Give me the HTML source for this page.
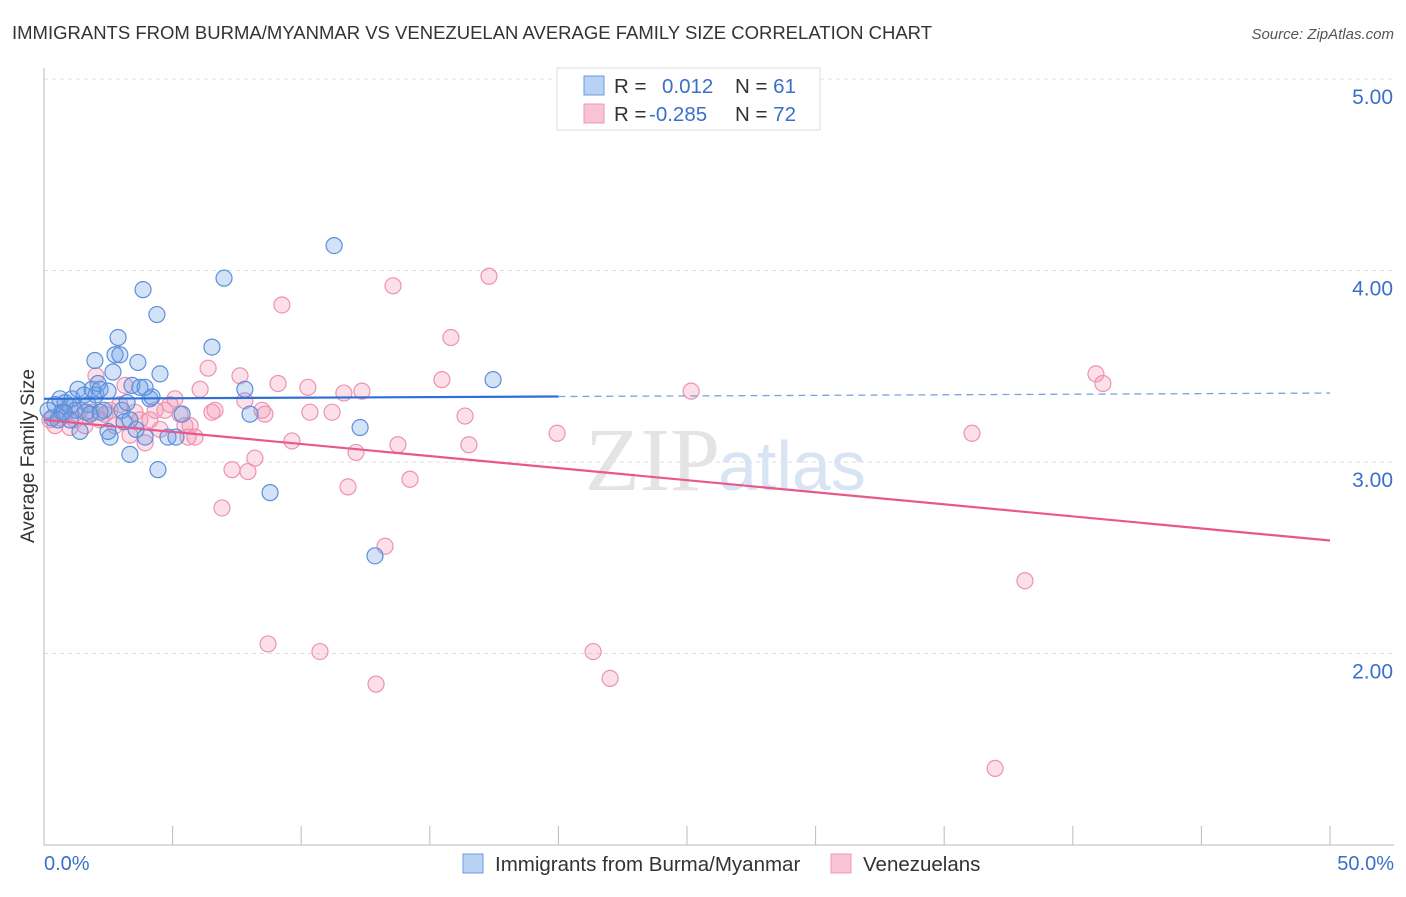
<!DOCTYPE html>
<html><head><meta charset="utf-8"><style>
body{margin:0;background:#fff;font-family:"Liberation Sans",sans-serif}
</style></head><body>
<svg width="1406" height="892" xmlns="http://www.w3.org/2000/svg" font-family="Liberation Sans, sans-serif">
<text x="12" y="39" font-size="18.5" fill="#333">IMMIGRANTS FROM BURMA/MYANMAR VS VENEZUELAN AVERAGE FAMILY SIZE CORRELATION CHART</text>
<text x="1394" y="39" font-size="15" fill="#555" font-style="italic" text-anchor="end">Source: ZipAtlas.com</text>
<g id="grid"></g>
<text x="720" y="490" font-size="90" fill="#e4e4e4" text-anchor="end" font-family="Liberation Serif, serif">ZIP</text>
<text x="718" y="490" font-size="70" fill="#d8e4f4">atlas</text>
<line x1="44" y1="68" x2="44" y2="845" stroke="#bbb"/>
<line x1="44" y1="845" x2="1394" y2="845" stroke="#bbb"/>
<text transform="translate(34,456) rotate(-90)" font-size="19" fill="#333" text-anchor="middle">Average Family Size</text>
<text x="44" y="870" font-size="20" fill="#3a70c8">0.0%</text>
<text x="1394" y="870" font-size="20" fill="#3a70c8" text-anchor="end">50.0%</text>
<g id="marks"></g>
<g>
<rect x="557" y="68" width="263" height="62" fill="#fff" stroke="#ddd"/>
<rect x="584" y="76" width="20" height="19" fill="#b8d2f4" stroke="#6b9be0"/>
<rect x="584" y="104" width="20" height="19" fill="#f8c4d4" stroke="#ec9ab4"/>
<text x="614" y="93" font-size="20.5" fill="#333">R = <tspan fill="#3a70c8" x="662">0.012</tspan><tspan x="735">N = </tspan><tspan fill="#3a70c8">61</tspan></text>
<text x="614" y="121" font-size="20.5" fill="#333">R = <tspan fill="#3a70c8" x="649">-0.285</tspan><tspan x="735">N = </tspan><tspan fill="#3a70c8">72</tspan></text>
</g>
<g>
<rect x="463" y="854" width="20" height="19" fill="#b8d2f4" stroke="#6b9be0"/>
<text x="495" y="871" font-size="20.5" fill="#333">Immigrants from Burma/Myanmar</text>
<rect x="831" y="854" width="20" height="19" fill="#f8c4d4" stroke="#ec9ab4"/>
<text x="863" y="871" font-size="20.5" fill="#333">Venezuelans</text>
</g>
</svg>
<script>
const yTicks=[2,3,4,5];
const xTickCount=10;
const blueX=[0.16,0.31,0.43,0.62,0.70,0.82,1.01,1.09,1.21,1.32,1.40,1.56,1.71,1.79,1.87,1.98,2.02,2.10,2.18,2.33,2.49,2.57,2.68,2.76,2.88,2.95,3.03,3.11,3.23,3.34,3.42,3.58,3.65,3.73,3.85,3.93,4.12,4.20,4.39,4.43,4.51,4.82,5.13,5.37,6.53,7.00,7.81,8.01,8.79,11.28,12.29,12.87,17.46,0.78,1.01,1.63,0.54,2.18,2.49,3.34,3.93];
const blueY=[3.27,3.23,3.30,3.33,3.26,3.31,3.29,3.33,3.27,3.38,3.16,3.35,3.30,3.25,3.38,3.53,3.35,3.41,3.38,3.27,3.37,3.13,3.47,3.56,3.65,3.56,3.27,3.21,3.31,3.04,3.40,3.17,3.52,3.39,3.90,3.13,3.33,3.34,3.77,2.96,3.46,3.13,3.13,3.25,3.60,3.96,3.38,3.25,2.84,4.13,3.18,2.51,3.43,3.26,3.22,3.26,3.22,3.26,3.16,3.22,3.39];
const pinkX=[0.23,0.43,0.62,0.82,1.01,1.21,1.40,1.59,1.87,2.02,2.18,2.37,2.57,2.76,2.95,3.15,3.34,3.54,3.73,3.93,4.12,4.32,4.51,4.70,4.90,5.09,5.29,5.48,5.60,5.68,5.87,6.07,6.38,6.53,6.65,6.92,7.31,7.62,7.81,7.93,8.20,8.48,8.59,8.71,9.10,9.25,9.64,10.26,10.34,10.73,11.20,11.66,11.82,12.13,12.36,12.91,13.26,13.57,13.76,14.23,15.47,15.82,16.37,16.52,17.30,19.95,21.35,22.01,25.16,36.08,36.98,38.14,40.90,41.17];
const pinkY=[3.22,3.19,3.23,3.25,3.18,3.22,3.27,3.19,3.26,3.45,3.22,3.25,3.27,3.19,3.30,3.40,3.14,3.26,3.22,3.10,3.22,3.27,3.17,3.27,3.30,3.33,3.25,3.19,3.13,3.19,3.13,3.38,3.49,3.26,3.27,2.76,2.96,3.45,3.32,2.95,3.02,3.27,3.25,2.05,3.41,3.82,3.11,3.39,3.26,2.01,3.26,3.36,2.87,3.05,3.37,1.84,2.56,3.92,3.09,2.91,3.43,3.65,3.24,3.09,3.97,3.15,2.01,1.87,3.37,3.15,1.40,2.38,3.46,3.41];
const blueTrend=[3.33,3.36];
const pinkTrend=[3.22,2.59];
const NS='http://www.w3.org/2000/svg';
const xs=v=>44+v*25.72;
const ys=v=>79+(5-v)*191.5;
function mk(t,a,p){const e=document.createElementNS(NS,t);for(const k in a)e.setAttribute(k,a[k]);p.appendChild(e);return e;}
const grid=document.getElementById('grid');
yTicks.forEach(t=>{
 const l=mk('line',{x1:44,x2:1394,y1:ys(t),y2:ys(t),stroke:'#ddd','stroke-dasharray':'4,4'},grid);
 
 
 const tx=mk('text',{x:1393,y:ys(t)+25,'font-size':21,fill:'#3a70c8','text-anchor':'end'},grid);
 tx.textContent=t.toFixed(2);
 
 
});
for(let i=0;i<=xTickCount;i++){
 const x=xs(i*5);
 const l=mk('line',{x1:x,x2:x,y1:826,y2:845,stroke:'#bbb'},grid);
 
 
}
const m=document.getElementById('marks');
pinkX.forEach((v,i)=>{
 const c=mk('circle',{cx:xs(v),cy:ys(pinkY[i]),r:8,fill:'rgba(244,150,180,0.3)',stroke:'#ec93b0','stroke-width':1.2},m);
 
 
});
blueX.forEach((v,i)=>{
 const c=mk('circle',{cx:xs(v),cy:ys(blueY[i]),r:8,fill:'rgba(110,160,230,0.3)',stroke:'#5b8fdc','stroke-width':1.2},m);
 
 
});
const bAt=x=>blueTrend[0]+(blueTrend[1]-blueTrend[0])*x/50;
let l=mk('line',{x1:xs(0),y1:ys(bAt(0)),x2:xs(20),y2:ys(bAt(20)),stroke:'#2f6fd6','stroke-width':2.2},m);


l=mk('line',{x1:xs(20),y1:ys(bAt(20)),x2:xs(50),y2:ys(bAt(50)),stroke:'#7aa3e0','stroke-width':1.3,'stroke-dasharray':'7,5'},m);


l=mk('line',{x1:xs(0),y1:ys(pinkTrend[0]),x2:xs(50),y2:ys(pinkTrend[1]),stroke:'#e8588a','stroke-width':2.2},m);


</script>
</body></html>
